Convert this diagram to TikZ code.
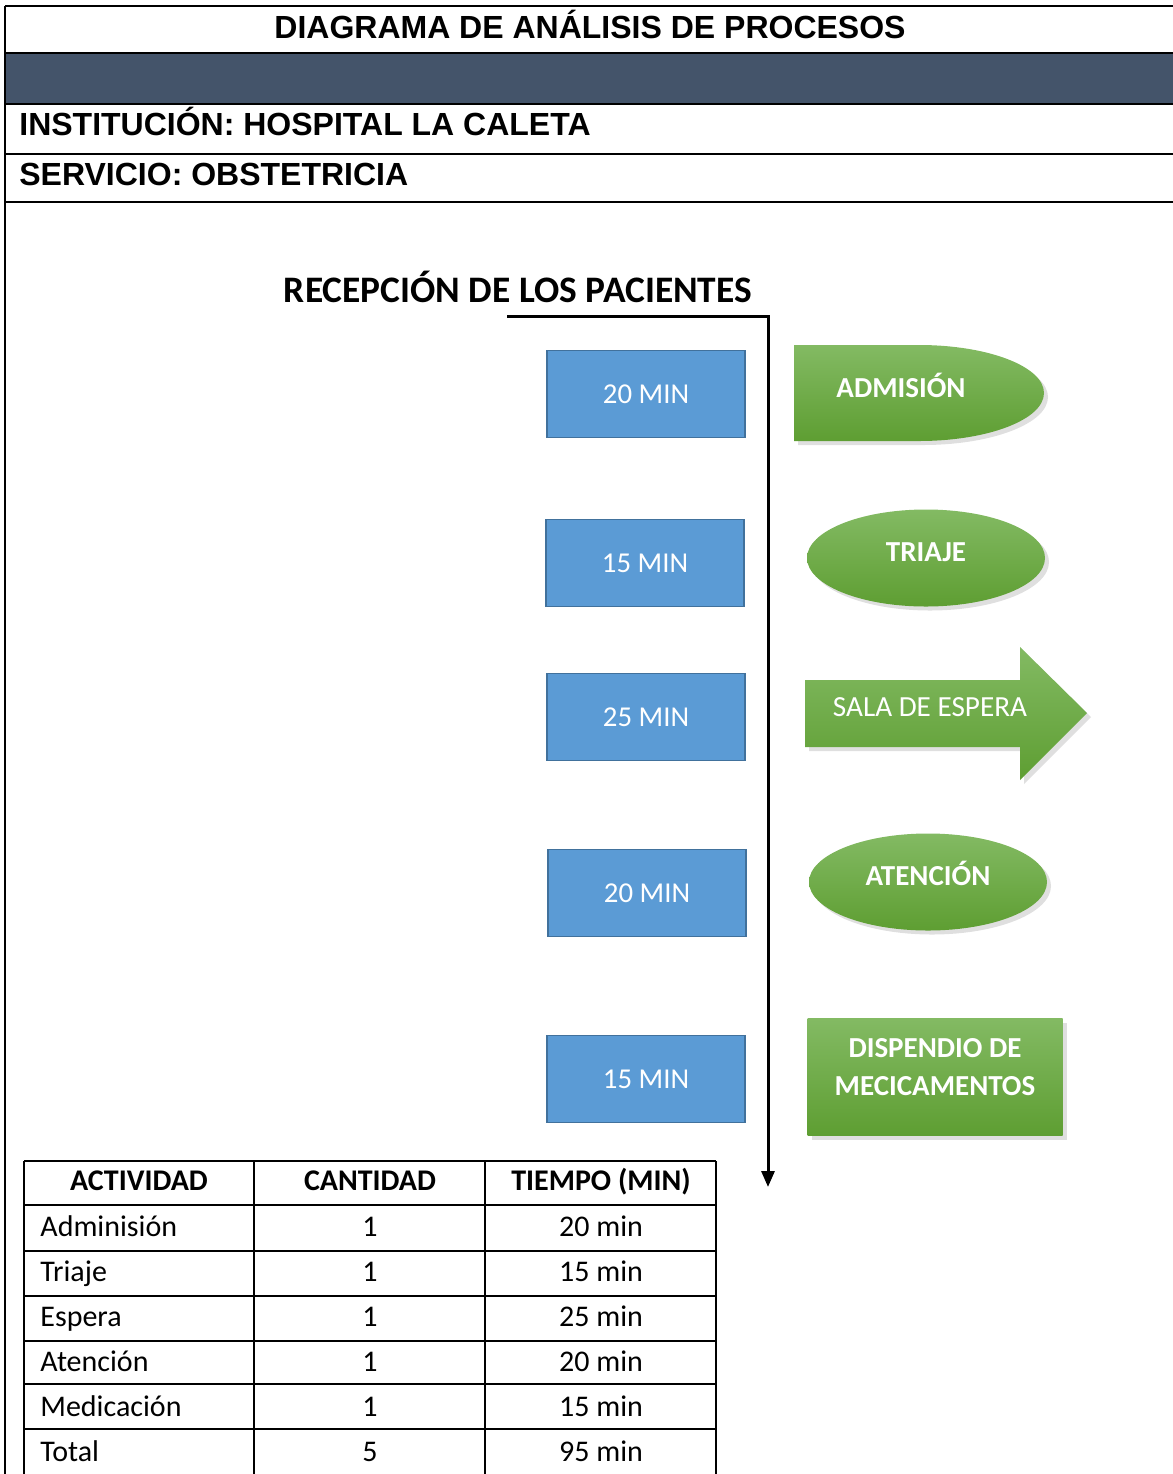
\documentclass[tikz,border=0pt]{standalone}
\usepackage{fontspec}
\setmainfont{Carlito}
\newfontfamily\arialfont{Liberation Sans}
\usepackage{xcolor}
\usetikzlibrary{shapes.geometric,shadows,arrows.meta}

\definecolor{bandSlate}{HTML}{44546A}
\definecolor{boxBlue}{HTML}{5B9BD5}
\definecolor{boxEdge}{HTML}{41719C}
\definecolor{greenTop}{HTML}{83BA63}
\definecolor{greenBot}{HTML}{5E9E32}

\begin{document}
\begin{tikzpicture}[x=0.5pt, y=-0.5pt,
    headline/.style={line width=1pt},
    headtxt/.style={font=\arialfont\bfseries\fontsize{16}{19}\selectfont, inner sep=0pt},
    timebox/.style={draw=boxEdge, line width=0.8pt, fill=boxBlue, text=white,
        minimum width=99pt, minimum height=43.5pt, font=\fontsize{14.4}{17}\selectfont},
    greenfill/.style={top color=greenTop, bottom color=greenBot, draw=none,
        drop shadow={shadow xshift=2pt, shadow yshift=-2pt, opacity=0.25}},
    greentxt/.style={text=white, font=\bfseries\fontsize{14.5}{19}\selectfont, inner sep=0pt, anchor=base},
    flowline/.style={line width=1.5pt, -{Triangle[length=8pt,width=6.5pt]}},
    tblline/.style={line width=0.7pt},
    tblhead/.style={font=\bfseries\fontsize{15}{18}\selectfont, inner sep=0pt, anchor=base},
    tblcell/.style={font=\fontsize{15}{18}\selectfont, inner sep=0pt},
  ]
    \useasboundingbox (0,0) rectangle (1173,1474);

    % Header rows
    \fill[bandSlate] (5,53) rectangle (1173,104);
    \foreach \yy in {6,53,104,154,202}
        \draw[headline] (5,\yy) -- (1173,\yy);
    \draw[headline] (5,6) -- (5,1474);
    \node[headtxt, anchor=base] (title) at (590,38) {DIAGRAMA DE ANÁLISIS DE PROCESOS};
    \node[headtxt, anchor=base west] (institucion) at (19,135) {INSTITUCIÓN: HOSPITAL LA CALETA};
    \node[headtxt, anchor=base west] (servicio) at (19,185) {SERVICIO: OBSTETRICIA};

    % Process title and time line
    \node[font=\bfseries\fontsize{18.7}{22}\selectfont, inner sep=0pt, anchor=base] (recepcion) at (518,302) {RECEPCIÓN DE LOS PACIENTES};
    \coordinate (lineStart) at (507,316);
    \coordinate (lineBend) at (768,316);
    \coordinate (lineEnd) at (768,1187);
    \draw[flowline] (lineStart) -- (lineBend) -- (lineEnd);

    % Time boxes
    \node[timebox] (t1) at (646,394) {20 MIN};
    \node[timebox] (t2) at (645,563) {15 MIN};
    \node[timebox] (t3) at (646,717) {25 MIN};
    \node[timebox] (t4) at (647,893) {20 MIN};
    \node[timebox] (t5) at (646,1079) {15 MIN};

    % Activities
    \path[greenfill] (794,345) -- (919,345) arc[start angle=90, end angle=-90, x radius=62.5pt, y radius=24pt] -- (794,441) -- cycle;
    \node[greentxt] (admision) at (901,397) {ADMISIÓN};

    \node[ellipse, greenfill, minimum width=119pt, minimum height=48.5pt] (triajeShape) at (926,558) {};
    \node[greentxt] (triaje) at (926,561) {TRIAJE};

    \path[greenfill] (805,680) -- (1020,680) -- (1020,647) -- (1087,713) -- (1020,780) -- (1020,747) -- (805,747) -- cycle;
    \node[greentxt, font=\fontsize{14.6}{19}\selectfont] (espera) at (930,716) {SALA DE ESPERA};

    \node[ellipse, greenfill, minimum width=119pt, minimum height=48.5pt] (atencionShape) at (928,882) {};
    \node[greentxt] (atencion) at (928,885) {ATENCIÓN};

    \node[rectangle, greenfill, minimum width=127.5pt, minimum height=58.5pt] (dispendioShape) at (935,1077) {};
    \node[greentxt] (dispendio1) at (935,1057) {DISPENDIO DE};
    \node[greentxt] (dispendio2) at (935,1095) {MECICAMENTOS};

    % Summary table
    \foreach \yy in {1161,1205,1251,1296,1341,1384,1429}
        \draw[tblline] (24,\yy) -- (716,\yy);
    \foreach \xx in {24,254,485,716}
        \draw[tblline] (\xx,1161) -- (\xx,1474);
    \node[tblhead] (hAct) at (139,1190) {ACTIVIDAD};
    \node[tblhead] (hCant) at (370,1190) {CANTIDAD};
    \node[tblhead] (hTiempo) at (601,1190) {TIEMPO (MIN)};
    \foreach \act/\cant/\tiempo [count=\i] in {Adminisión/1/20 min, Triaje/1/15 min, Espera/1/25 min,
            Atención/1/20 min, Medicación/1/15 min, Total/5/95 min} {
        \pgfmathsetmacro{\yy}{1191+45*\i}
        \node[tblcell, anchor=base west] (act\i) at (40,\yy) {\act};
        \node[tblcell, anchor=base] (cant\i) at (370,\yy) {\cant};
        \node[tblcell, anchor=base] (tiempo\i) at (601,\yy) {\tiempo};
    }
\end{tikzpicture}
\end{document}
